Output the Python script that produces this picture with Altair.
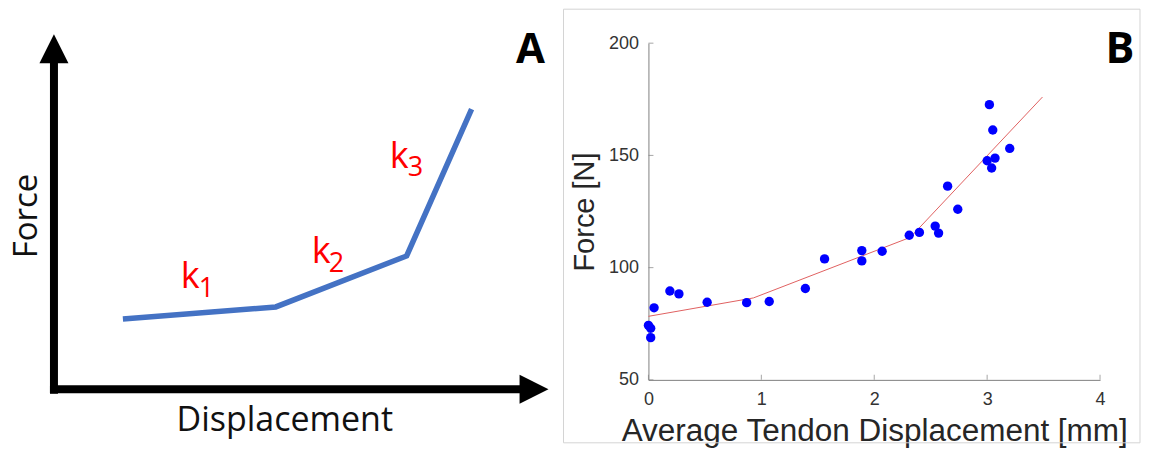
import altair as alt
import pandas as pd

# ---------------- Panel A: schematic (drawing units) ----------------
curve_x = [123, 276, 407, 472]
curve_y = [318, 306, 255, 108]

k_x = [181, 312, 390]
k_y = [287, 262, 167]
sub_labels = ["1", "2", "3"]
sub_x = [199, 329, 408]
sub_y = [296, 271, 175]

vaxis_x = [54]
vaxis_y1 = [58]
vaxis_y2 = [393]
haxis_y = [388.5]
haxis_x1 = [50]
haxis_x2 = [524]

arrow_x = [54, 534.5]
arrow_y = [47.5, 388.5]
arrow_kind = ["up", "right"]

# ---------------- Panel B: measured data ----------------
disp_mm = [0.0, 0.02, 0.02, 0.05, 0.19, 0.27, 0.52, 0.87, 1.07, 1.39, 1.56,
           1.89, 1.89, 2.07, 2.31, 2.40, 2.54, 2.57, 2.65, 2.74, 3.02, 3.05,
           3.00, 3.07, 3.04, 3.20]
force_N = [74.3, 73.0, 68.8, 82.1, 89.6, 88.3, 84.6, 84.4, 84.9, 90.7, 103.9,
           107.6, 103.0, 107.3, 114.4, 115.7, 118.5, 115.4, 136.3, 126.0, 172.6,
           161.3, 147.6, 148.8, 144.4, 153.1]
fit_disp = [0.0, 0.93, 2.32, 3.49]
fit_force = [78.3, 86.5, 113.5, 176.0]
x_ticks = [0, 1, 2, 3, 4]
y_ticks = [50, 100, 150, 200]

# ================= Panel A =================
xa = alt.Scale(domain=[8, 560], nice=False, zero=False)
ya = alt.Scale(domain=[42, 379], nice=False, zero=False, reverse=True)

def X(f):
    return alt.X(f, type="quantitative", scale=xa, axis=None)

def Y(f):
    return alt.Y(f, type="quantitative", scale=ya, axis=None)

vbar = alt.Chart(pd.DataFrame({"x": vaxis_x, "y": vaxis_y1, "y2": vaxis_y2})).mark_rule(
    color="black", strokeWidth=8, strokeCap="butt"
).encode(x=X("x"), y=Y("y"), y2="y2")

hbar = alt.Chart(pd.DataFrame({"y": haxis_y, "x": haxis_x1, "x2": haxis_x2})).mark_rule(
    color="black", strokeWidth=8, strokeCap="butt"
).encode(y=Y("y"), x=X("x"), x2="x2")

arrows = alt.Chart(pd.DataFrame({"x": arrow_x, "y": arrow_y, "kind": arrow_kind})).mark_point(
    filled=True, opacity=1, size=841, strokeWidth=0, color="black"
).encode(
    x=X("x"), y=Y("y"),
    shape=alt.Shape("kind:N", scale=alt.Scale(domain=["up", "right"],
                    range=["M0,-1L1,1L-1,1Z", "M1,0L-1,-1L-1,1Z"]), legend=None),
)

curve = alt.Chart(pd.DataFrame({"x": curve_x, "y": curve_y})).mark_line(
    color="#4472C4", strokeWidth=5.5, strokeJoin="miter"
).encode(x=X("x"), y=Y("y"), order="x:Q")

ktext = alt.Chart(pd.DataFrame({"x": k_x, "y": k_y})).mark_text(
    text="k", font="Open Sans", fontSize=36, color="#ff0000", align="left", baseline="alphabetic"
).encode(x=X("x"), y=Y("y"))

subtext = alt.Chart(pd.DataFrame({"x": sub_x, "y": sub_y, "t": sub_labels})).mark_text(
    font="Open Sans", fontSize=27, color="#ff0000", align="left", baseline="alphabetic"
).encode(x=X("x"), y=Y("y"), text="t:N")

force_lbl = alt.Chart(pd.DataFrame({"x": [37], "y": [215], "t": ["Force"]})).mark_text(
    font="Open Sans", fontSize=33, color="#111111", angle=270, align="center", baseline="alphabetic"
).encode(x=X("x"), y=Y("y"), text="t:N")

disp_lbl = alt.Chart(pd.DataFrame({"x": [285], "y": [430], "t": ["Displacement"]})).mark_text(
    font="Open Sans", fontSize=34, color="#111111", align="center", baseline="alphabetic"
).encode(x=X("x"), y=Y("y"), text="t:N")

a_lbl = alt.Chart(pd.DataFrame({"x": [531], "y": [62], "t": ["A"]})).mark_text(
    font="Open Sans", fontSize=42, fontWeight="bold", color="black", align="center", baseline="alphabetic"
).encode(x=X("x"), y=Y("y"), text="t:N")

panelA = alt.layer(vbar, hbar, arrows, curve, ktext, subtext, force_lbl, disp_lbl, a_lbl).properties(
    width=552, height=337
)

# ================= Panel B =================
FONT = "Liberation Sans"
xb = alt.X("disp:Q", scale=alt.Scale(domain=[0, 4], nice=False, zero=False),
           axis=alt.Axis(values=x_ticks, format="d", ticks=False, grid=False, domainColor="#808080",
                         domainWidth=1, labelFont=FONT, labelFontSize=18, labelColor="#333333",
                         labelPadding=11, title="Average Tendon Displacement [mm]", titleFont=FONT,
                         titleFontSize=31.5, titleFontWeight="normal", titleColor="#262626",
                         titlePadding=7, labelFlush=False))
yb = alt.Y("force:Q", scale=alt.Scale(domain=[50, 200], nice=False, zero=False),
           axis=alt.Axis(values=y_ticks, format="d", ticks=False, grid=False, domainColor="#808080",
                         domainWidth=1, labelFont=FONT, labelFontSize=18, labelColor="#333333",
                         labelPadding=10, title="Force [N]", titleFont=FONT,
                         titleFontSize=29, titleFontWeight="normal", titleColor="#262626",
                         titlePadding=9, labelFlush=False))

frame = alt.Chart(alt.Data(values=[{}])).mark_rect(
    fillOpacity=0, stroke="#d4d4d4", strokeWidth=1
).encode(x=alt.value(-85), x2=alt.value(492), y=alt.value(-34), y2=alt.value(400))

fit = alt.Chart(pd.DataFrame({"disp": fit_disp, "force": fit_force})).mark_line(
    color="#e06060", strokeWidth=1
).encode(x=xb, y=yb, order="disp:Q")

pts = alt.Chart(pd.DataFrame({"disp": disp_mm, "force": force_N})).mark_circle(
    color="#0000ff", size=88, opacity=1
).encode(x=xb, y=yb)

xt = alt.Chart(pd.DataFrame({"disp": x_ticks})).mark_tick(
    orient="vertical", size=5, thickness=1, color="#808080", yOffset=-2.5
).encode(x=alt.X("disp:Q"), y=alt.value(337))

yt = alt.Chart(pd.DataFrame({"force": y_ticks})).mark_tick(
    orient="horizontal", size=5, thickness=1, color="#808080", xOffset=2.5
).encode(y=alt.Y("force:Q"), x=alt.value(0))

b_lbl = alt.Chart(alt.Data(values=[{}])).mark_text(
    text="B", font="Open Sans", fontSize=43, fontWeight="bold", color="black",
    align="center", baseline="alphabetic"
).encode(x=alt.value(472), y=alt.value(20))

panelB = alt.layer(frame, fit, pts, xt, yt, b_lbl).properties(width=452, height=337)

chart = alt.hconcat(panelA, panelB, spacing=3).properties(padding=0).configure_view(stroke=None)

chart.save("out.html", embed_options={"renderer": "svg", "actions": False})
